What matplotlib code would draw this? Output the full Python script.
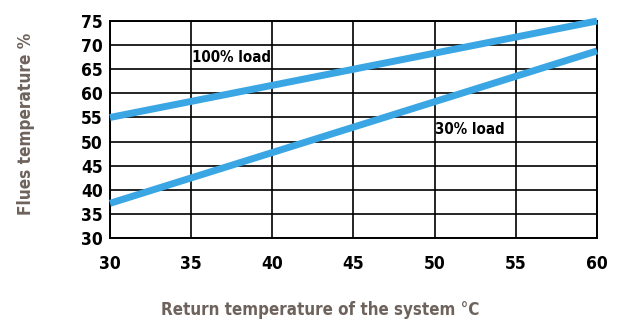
import matplotlib
matplotlib.use("Agg")
import matplotlib.pyplot as plt

# Data
return_temp = [30, 60]
flue_100 = [55, 75]
flue_30 = [37.2, 68.8]
x_ticks = [30, 35, 40, 45, 50, 55, 60]
y_ticks = [30, 35, 40, 45, 50, 55, 60, 65, 70, 75]

blue = "#3aa6e4"
label_col = "#6e635c"
font = dict(family="DejaVu Sans", stretch="condensed", weight="bold")

fig = plt.figure(figsize=(6.18, 3.23), dpi=100)
ax = fig.add_axes([0.178, 0.263, 0.788, 0.672])

ax.plot(return_temp, flue_100, color=blue, lw=5, solid_capstyle="butt", zorder=3, clip_on=False)
ax.plot(return_temp, flue_30, color=blue, lw=5, solid_capstyle="butt", zorder=3, clip_on=False)

ax.set_xlim(30, 60)
ax.set_ylim(30, 75)
ax.set_xticks(x_ticks)
ax.set_yticks(y_ticks)
ax.grid(True, color="black", lw=1.2)
for s in ax.spines.values():
    s.set_color("black")
    s.set_linewidth(1.4)
ax.tick_params(length=0, pad=12)
ax.tick_params(axis="y", pad=5)
for lab in ax.get_xticklabels() + ax.get_yticklabels():
    lab.set_fontsize(12.5)
    lab.set_fontfamily(font["family"])
    lab.set_fontstretch(font["stretch"])
    lab.set_fontweight("bold")

ax.text(35.05, 67.4, "100% load", fontsize=10.8, va="center", ha="left", **font)
ax.text(50.0, 52.5, "30% load", fontsize=10.8, va="center", ha="left", **font)

fig.text(0.042, 0.616, "Flues temperature %", rotation=90, ha="center", va="center",
         fontsize=12.3, color=label_col, **font)
fig.text(0.518, 0.04, "Return temperature of the system °C", ha="center", va="center",
         fontsize=12.2, color=label_col, **font)

fig.savefig("out.png", dpi=100)
